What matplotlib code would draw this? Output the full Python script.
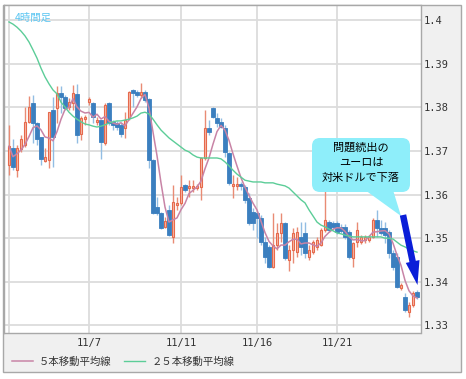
import matplotlib
matplotlib.use("Agg")
import matplotlib.pyplot as plt
import matplotlib.patches as mpatches
import numpy as np
import pandas as pd

plt.rcParams['font.family'] = ['Noto Sans CJK JP', 'DejaVu Sans']

# 4時間足 EUR/USD (11/3 ~ 11/23)
opens = [1.3668, 1.3707, 1.3656, 1.3705, 1.3714, 1.3767, 1.3810, 1.3764, 1.3732, 1.3677,
         1.3679, 1.3794, 1.3799, 1.3833, 1.3824, 1.3801, 1.3810, 1.3831, 1.3739, 1.3773,
         1.3812, 1.3810, 1.3767, 1.3771, 1.3718, 1.3810, 1.3767, 1.3764, 1.3760, 1.3753,
         1.3776, 1.3840, 1.3835, 1.3828, 1.3835, 1.3819, 1.3679, 1.3572, 1.3558, 1.3526,
         1.3565, 1.3503, 1.3576, 1.3581, 1.3622, 1.3615, 1.3615, 1.3615, 1.3617, 1.3684,
         1.3753, 1.3799, 1.3776, 1.3767, 1.3753, 1.3695, 1.3620, 1.3620, 1.3624, 1.3617,
         1.3592, 1.3560, 1.3558, 1.3546, 1.3491, 1.3480, 1.3434, 1.3484, 1.3512, 1.3535,
         1.3450, 1.3473, 1.3468, 1.3503, 1.3512, 1.3457, 1.3468, 1.3480, 1.3484, 1.3519,
         1.3537, 1.3535, 1.3535, 1.3526, 1.3526, 1.3514, 1.3455, 1.3491, 1.3491, 1.3496,
         1.3496, 1.3503, 1.3542, 1.3523, 1.3523, 1.3514, 1.3466, 1.3457, 1.3386, 1.3365,
         1.3331, 1.3347, 1.3377]
highs = [1.3760, 1.3728, 1.3714, 1.3737, 1.3801, 1.3826, 1.3828, 1.3767, 1.3732, 1.3707,
         1.3789, 1.3824, 1.3849, 1.3849, 1.3828, 1.3822, 1.3851, 1.3854, 1.3780, 1.3783,
         1.3824, 1.3812, 1.3778, 1.3771, 1.3810, 1.3812, 1.3771, 1.3769, 1.3764, 1.3789,
         1.3838, 1.3842, 1.3840, 1.3856, 1.3840, 1.3822, 1.3682, 1.3594, 1.3560, 1.3549,
         1.3576, 1.3622, 1.3594, 1.3645, 1.3624, 1.3633, 1.3633, 1.3624, 1.3686, 1.3794,
         1.3771, 1.3801, 1.3787, 1.3776, 1.3760, 1.3698, 1.3645, 1.3640, 1.3629, 1.3622,
         1.3604, 1.3569, 1.3560, 1.3553, 1.3503, 1.3484, 1.3558, 1.3535, 1.3558, 1.3537,
         1.3484, 1.3523, 1.3526, 1.3537, 1.3537, 1.3484, 1.3496, 1.3503, 1.3523, 1.3611,
         1.3542, 1.3539, 1.3539, 1.3533, 1.3533, 1.3519, 1.3491, 1.3537, 1.3507, 1.3507,
         1.3507, 1.3546, 1.3565, 1.3542, 1.3537, 1.3519, 1.3473, 1.3466, 1.3397, 1.3374,
         1.3354, 1.3379, 1.3381]
lows = [1.3645, 1.3656, 1.3640, 1.3698, 1.3709, 1.3764, 1.3718, 1.3714, 1.3668, 1.3675,
        1.3661, 1.3663, 1.3764, 1.3787, 1.3794, 1.3794, 1.3794, 1.3718, 1.3725, 1.3760,
        1.3806, 1.3764, 1.3760, 1.3682, 1.3714, 1.3760, 1.3748, 1.3748, 1.3732, 1.3730,
        1.3771, 1.3801, 1.3824, 1.3822, 1.3812, 1.3661, 1.3556, 1.3553, 1.3521, 1.3523,
        1.3505, 1.3489, 1.3565, 1.3576, 1.3606, 1.3594, 1.3606, 1.3611, 1.3588, 1.3679,
        1.3737, 1.3776, 1.3755, 1.3753, 1.3686, 1.3622, 1.3592, 1.3611, 1.3611, 1.3581,
        1.3530, 1.3519, 1.3500, 1.3484, 1.3443, 1.3432, 1.3432, 1.3473, 1.3491, 1.3450,
        1.3425, 1.3443, 1.3457, 1.3461, 1.3455, 1.3450, 1.3464, 1.3473, 1.3482, 1.3514,
        1.3514, 1.3519, 1.3510, 1.3512, 1.3498, 1.3452, 1.3434, 1.3480, 1.3487, 1.3489,
        1.3491, 1.3500, 1.3503, 1.3507, 1.3489, 1.3455, 1.3427, 1.3386, 1.3381, 1.3331,
        1.3319, 1.3342, 1.3361]
closes = [1.3711, 1.3663, 1.3707, 1.3728, 1.3767, 1.3801, 1.3764, 1.3728, 1.3682, 1.3686,
          1.3789, 1.3732, 1.3833, 1.3824, 1.3799, 1.3812, 1.3833, 1.3737, 1.3776, 1.3778,
          1.3819, 1.3778, 1.3771, 1.3721, 1.3806, 1.3764, 1.3760, 1.3755, 1.3739, 1.3771,
          1.3835, 1.3833, 1.3828, 1.3835, 1.3817, 1.3679, 1.3558, 1.3558, 1.3523, 1.3539,
          1.3507, 1.3583, 1.3581, 1.3617, 1.3611, 1.3620, 1.3620, 1.3620, 1.3684, 1.3753,
          1.3744, 1.3778, 1.3764, 1.3755, 1.3698, 1.3627, 1.3624, 1.3624, 1.3620, 1.3588,
          1.3535, 1.3535, 1.3546, 1.3491, 1.3457, 1.3434, 1.3484, 1.3512, 1.3535, 1.3455,
          1.3473, 1.3512, 1.3514, 1.3480, 1.3466, 1.3473, 1.3491, 1.3496, 1.3519, 1.3542,
          1.3519, 1.3526, 1.3514, 1.3517, 1.3503, 1.3457, 1.3489, 1.3519, 1.3503, 1.3503,
          1.3503, 1.3542, 1.3523, 1.3512, 1.3507, 1.3466, 1.3434, 1.3388, 1.3393, 1.3335,
          1.3347, 1.3374, 1.3365]
# 25本移動平均線 (チャートから読み取り)
ma25 = [1.3996, 1.3991, 1.3984, 1.3975, 1.3964, 1.3950, 1.3932, 1.3913, 1.3890, 1.3870,
        1.3854, 1.3840, 1.3831, 1.3812, 1.3801, 1.3789, 1.3780, 1.3773, 1.3767, 1.3762,
        1.3760, 1.3757, 1.3755, 1.3757, 1.3760, 1.3764, 1.3767, 1.3769, 1.3769, 1.3771,
        1.3773, 1.3776, 1.3780, 1.3787, 1.3789, 1.3785, 1.3773, 1.3760, 1.3748, 1.3739,
        1.3730, 1.3723, 1.3716, 1.3709, 1.3702, 1.3698, 1.3691, 1.3686, 1.3684, 1.3684,
        1.3684, 1.3684, 1.3684, 1.3682, 1.3675, 1.3666, 1.3656, 1.3647, 1.3640, 1.3633,
        1.3631, 1.3629, 1.3629, 1.3629, 1.3627, 1.3627, 1.3627, 1.3624, 1.3622, 1.3620,
        1.3615, 1.3606, 1.3597, 1.3588, 1.3581, 1.3565, 1.3551, 1.3537, 1.3530, 1.3526,
        1.3521, 1.3517, 1.3512, 1.3510, 1.3507, 1.3505, 1.3503, 1.3503, 1.3503, 1.3503,
        1.3503, 1.3503, 1.3503, 1.3503, 1.3500, 1.3500, 1.3498, 1.3491, 1.3484, 1.3480,
        1.3475, 1.3471, 1.3468]

xtick_pos = [0, 20, 43, 62, 82]
xtick_labels = ['', '11/7', '11/11', '11/16', '11/21']
ytick_vals = [1.33, 1.34, 1.35, 1.36, 1.37, 1.38, 1.39, 1.40]
ytick_labels = ['1.33', '1.34', '1.35', '1.36', '1.37', '1.38', '1.39', '1.4']

df = pd.DataFrame({'o': opens, 'h': highs, 'l': lows, 'c': closes, 'ma25': ma25})
df['ma5'] = df['c'].rolling(5, min_periods=1).mean()
x = np.arange(len(df))
up = df['c'] >= df['o']

fig = plt.figure(figsize=(4.66, 3.79), dpi=100)
fig.patch.set_facecolor('white')
# 外枠
frame = mpatches.Rectangle((3 / 466, 1 - 372 / 379), 458 / 466, 367 / 379,
                           transform=fig.transFigure, facecolor='#f0f0f0',
                           edgecolor='#a8a8a8', lw=1, zorder=-1)
fig.add_artist(frame)

ax = fig.add_axes([3.5 / 466, 1 - 332.5 / 379, 417 / 466, 327.5 / 379])
ax.set_facecolor('white')
ax.set_xlim(-1.375, 102.875)
ax.set_ylim(1.32837, 1.40349)

# ローソク足
red_edge, red_fill, red_wick = '#e6694c', '#f6b8a6', '#e98b74'
blue_body, blue_wick = '#3b7fbf', '#92bde3'
ax.vlines(x[up], df['l'][up], df['h'][up], color=red_wick, lw=1, zorder=2)
ax.vlines(x[~up], df['l'][~up], df['h'][~up], color=blue_wick, lw=1, zorder=2)
body_bottom = np.minimum(df['o'], df['c'])
body_h = np.maximum(np.abs(df['c'] - df['o']), 0.00005)
ax.bar(x[up], body_h[up], bottom=body_bottom[up], width=0.7,
       color=red_fill, edgecolor=red_edge, lw=0.8, zorder=3)
ax.bar(x[~up], body_h[~up], bottom=body_bottom[~up], width=0.78,
       color=blue_body, edgecolor=blue_body, lw=0.6, zorder=3)

l5, = ax.plot(x, df['ma5'], color='#c884a6', lw=1.1, zorder=4)
l25, = ax.plot(x, df['ma25'], color='#5ccd98', lw=1.0, zorder=4)

ax.set_xticks(xtick_pos)
ax.set_xticklabels(xtick_labels, family='DejaVu Sans Mono', fontsize=7.5, color='#333333')
ax.set_yticks(ytick_vals)
ax.set_yticklabels(ytick_labels, family='DejaVu Sans Mono', fontsize=7.5, color='#333333')
ax.yaxis.tick_right()
ax.tick_params(axis='both', length=0)
ax.tick_params(axis='x', pad=4)
ax.tick_params(axis='y', pad=2.5)
ax.grid(True, color='#dcdcdc', lw=1.3, zorder=0)
ax.set_axisbelow(True)
for s in ax.spines.values():
    s.set_color('#a8a8a8')
    s.set_linewidth(1)

ax.text(11 / 417, 1 - 8 / 327.5, '4時間足', transform=ax.transAxes, fontsize=7.5,
        color='#5cc6f2', va='top', ha='left')

fig.legend([l5, l25], ['５本移動平均線', '２５本移動平均線'], loc='center left',
           bbox_to_anchor=(8 / 466, 1 - 362 / 379), ncol=2, frameon=False,
           handlelength=2.0, handletextpad=0.6, columnspacing=1.2,
           prop={'family': ['Noto Sans CJK JP', 'DejaVu Sans'], 'size': 7.5},
           labelcolor='#333333', borderaxespad=0)

# 吹き出しと矢印 (ピクセル座標のオーバーレイ)
ov = fig.add_axes([0, 0, 1, 1], zorder=5)
ov.set_xlim(0, 466)
ov.set_ylim(379, 0)
ov.axis('off')
ov.patch.set_alpha(0)
bubble = '#8eeefa'
ov.add_patch(mpatches.FancyBboxPatch((312, 138), 98, 54,
                                     boxstyle='round,pad=0,rounding_size=8',
                                     facecolor=bubble, edgecolor='none'))
ov.add_patch(mpatches.Polygon([(365, 190), (393, 190), (401, 216)], closed=True,
                              facecolor=bubble, edgecolor='none'))
ov.text(361, 148, '問題続出の', ha='center', va='center', fontsize=8, color='black')
ov.text(361, 163, 'ユーロは', ha='center', va='center', fontsize=8, color='black')
ov.text(361, 178, '対米ドルで下落', ha='center', va='center', fontsize=8, color='black')
ov.add_patch(mpatches.FancyArrow(403, 215, 14.5, 70, width=6.5, head_width=14,
                                 head_length=24, length_includes_head=True,
                                 color='#0a1ed8', lw=0))

fig.savefig('out.png', dpi=100, facecolor=fig.get_facecolor())
